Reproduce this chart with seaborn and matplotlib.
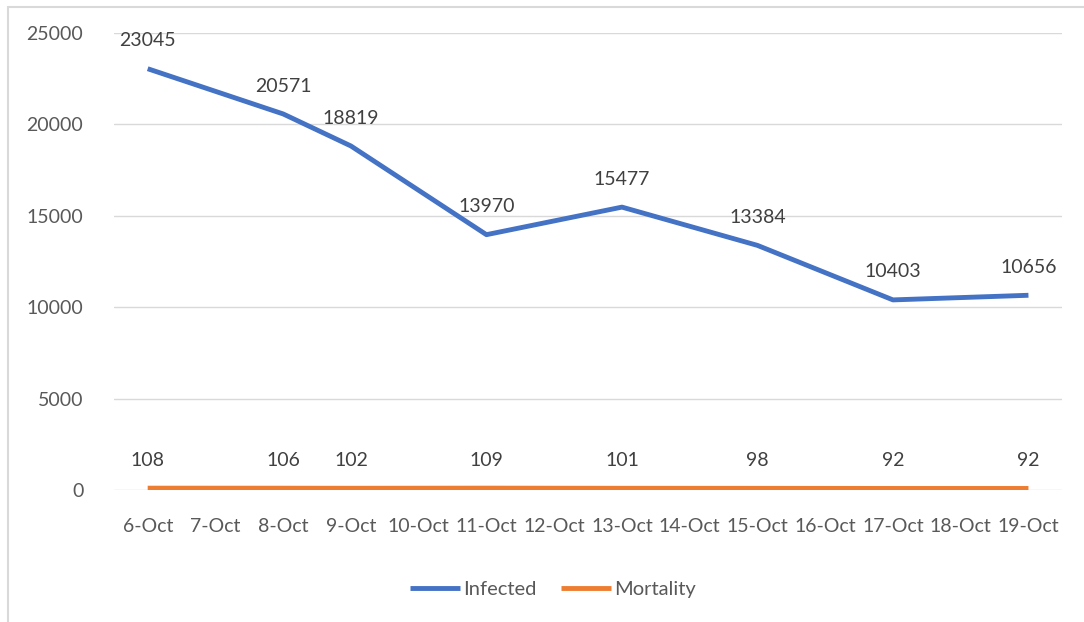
import matplotlib.pyplot as plt
import matplotlib.patches as patches
import pandas as pd
import seaborn as sns

# all dates on the axis
categories = ['6-Oct', '7-Oct', '8-Oct', '9-Oct', '10-Oct', '11-Oct', '12-Oct',
              '13-Oct', '14-Oct', '15-Oct', '16-Oct', '17-Oct', '18-Oct', '19-Oct']
# dates that have data
dates = ['6-Oct', '8-Oct', '9-Oct', '11-Oct', '13-Oct', '15-Oct', '17-Oct', '19-Oct']
infected = [23045, 20571, 18819, 13970, 15477, 13384, 10403, 10656]
mortality = [108, 106, 102, 109, 101, 98, 92, 92]

pos = [categories.index(d) for d in dates]
df = pd.DataFrame({'pos': pos * 2,
                   'value': infected + mortality,
                   'series': ['Infected'] * len(dates) + ['Mortality'] * len(dates)})

sns.set_style("white")
plt.rcParams['font.family'] = ['Lato', 'DejaVu Sans']
txt = '#595959'

fig = plt.figure(figsize=(10.84, 6.22), dpi=100)
ax = fig.add_axes([0.105, 0.212, 0.875, 0.735])

sns.lineplot(data=df, x='pos', y='value', hue='series',
             palette={'Infected': '#4472C4', 'Mortality': '#ED7D31'},
             linewidth=3.5, ax=ax, legend=True, solid_capstyle='butt')

# data labels
for p, v in zip(pos, infected):
    ax.annotate(str(v), (p, v), xytext=(0, 14), textcoords='offset points',
                ha='center', va='bottom', fontsize=14, color='#404040')
for p, v in zip(pos, mortality):
    ax.annotate(str(v), (p, v), xytext=(0, 14), textcoords='offset points',
                ha='center', va='bottom', fontsize=14, color='#404040')

ax.set_xlim(-0.5, len(categories) - 0.5)
ax.set_ylim(0, 25000)
ax.set_yticks(range(0, 25001, 5000))
ax.set_xticks(range(len(categories)))
ax.set_xticklabels(categories)
ax.tick_params(axis='both', labelsize=14, labelcolor=txt, length=0)
ax.tick_params(axis='x', pad=20)
ax.tick_params(axis='y', pad=22)
ax.grid(True, axis='y', color='#d9d9d9', linewidth=1)
ax.set_axisbelow(True)
for s in ax.spines.values():
    s.set_visible(False)
ax.set_xlabel('')
ax.set_ylabel('')

leg = ax.legend(loc='center', bbox_to_anchor=(0.463, -0.217), ncol=2, frameon=False,
                fontsize=14.5, handlelength=2.5, handletextpad=0.15, columnspacing=1.2)
for t in leg.get_texts():
    t.set_color(txt)
for h in leg.get_lines():
    h.set_linewidth(3.5)

# outer chart frame
fig.patches.append(patches.Rectangle((0.0075, -0.1), 1.2, 1.088, transform=fig.transFigure,
                                     fill=False, edgecolor='#d9d9d9', linewidth=1.5))

fig.savefig('out.png', dpi=100)
